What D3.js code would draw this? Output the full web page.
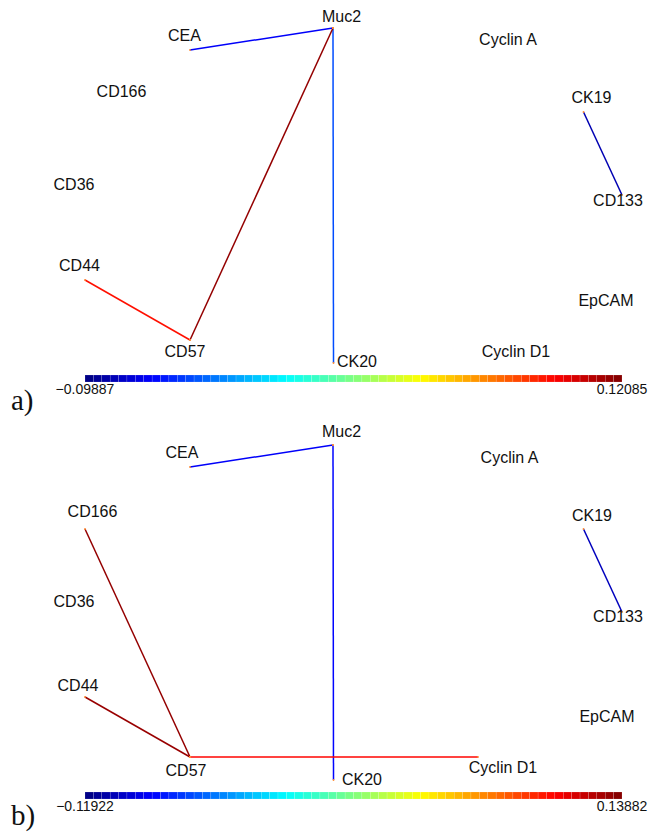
<!DOCTYPE html>
<html><head><meta charset="utf-8">
<script src="https://cdn.jsdelivr.net/npm/d3@7"></script>
<style>body{margin:0;background:#fff}svg{display:block}</style>
</head><body>
<script>
// ---- data ----
const nodeNames = ["CEA","Muc2","CK20","CD57","CD44","CD166","CK19","CD133","Cyclin D1"];
const nodeX = [190,333,333.5,190,85,85,583.5,622,478];
const nodeY = [50,28,363,340,280,112,112,195,340];

const labelNames = ["Muc2","CEA","Cyclin A","CD166","CK19","CD36","CD133","CD44","EpCAM","CD57","CK20","Cyclin D1"];
const labelAX = [341.5,184.5,508,121.5,591.5,74,618,79.5,606,185,357,516];
const labelAY = [22,40.5,45,97,103,190,206,271,306,357,367,357];
const labelBX = [341.5,182,509.5,92.5,592,74,618,78,607,186,362,503];
const labelBY = [20,41,46,100,104,190,205,274,305,359,368,356];

const edgeAFrom  = ["CEA","Muc2","Muc2","CD57","CK19"];
const edgeATo    = ["Muc2","CK20","CD57","CD44","CD133"];
const edgeAValue = [-0.0725,-0.0549,0.1165,0.0901,-0.0879];

const edgeBFrom  = ["CEA","Muc2","CD166","CD44","CD57","CK19"];
const edgeBTo    = ["Muc2","CK20","CD57","CD57","Cyclin D1","CD133"];
const edgeBValue = [-0.0883,-0.0857,0.1337,0.1324,0.1053,-0.1037];

const rangeA = [-0.09887, 0.12085];
const rangeB = [-0.11922, 0.13882];
const tickA = ["\u22120.09887","0.12085"];
const tickB = ["\u22120.11922","0.13882"];
const panelLetters = ["a)","b)"];

// ---- drawing ----
const W = 648, H = 834;
const svg = d3.select("body").append("svg").attr("width",W).attr("height",H);

function jet(t){
  const c = v => Math.max(0, Math.min(1, v));
  return d3.rgb(255*c(1.5-Math.abs(4*t-3)), 255*c(1.5-Math.abs(4*t-2)), 255*c(1.5-Math.abs(4*t-1))).formatHex();
}

function panel(top, lx, ly, eFrom, eTo, eVal, range, ticks, letter, letterY){
  const g = svg.append("g");
  const x = d3.scaleLinear().domain([0,648]).range([0,648]);
  const y = d3.scaleLinear().domain([0,417]).range([top, top+417]);
  const cnorm = d3.scaleLinear().domain(range).range([0,1]).clamp(true);
  const idx = n => nodeNames.indexOf(n);

  const edges = eFrom.map((f,i)=>({f:idx(f), t:idx(eTo[i]), v:eVal[i]}));
  g.selectAll("line.edge").data(edges).join("line").attr("class","edge")
    .attr("x1",d=>x(nodeX[d.f])).attr("y1",d=>y(nodeY[d.f]))
    .attr("x2",d=>x(nodeX[d.t])).attr("y2",d=>y(nodeY[d.t]))
    .attr("stroke",d=>jet(cnorm(d.v))).attr("stroke-width",1.5);

  const ends = [];
  edges.forEach(d=>{ends.push(d.f); ends.push(d.t);});
  g.selectAll("circle.end").data(ends).join("circle").attr("class","end")
    .attr("cx",d=>x(nodeX[d])).attr("cy",d=>y(nodeY[d])).attr("r",0.9)
    .attr("fill","#ff8a30");

  g.selectAll("text.lab").data(labelNames).join("text").attr("class","lab")
    .attr("x",(d,i)=>x(lx[i])).attr("y",(d,i)=>y(ly[i]))
    .attr("text-anchor","middle")
    .style("font-family","'Liberation Sans', Arial, sans-serif").style("font-size","16px")
    .attr("fill","#111").text(d=>d);

  // colorbar
  const cb = d3.scaleLinear().domain(range).range([85,622]);
  const N = 64;
  const steps = d3.range(N).map(i => range[0] + (range[1]-range[0])*i/N);
  const sw = (range[1]-range[0])/N;
  g.selectAll("rect.cb").data(steps).join("rect").attr("class","cb")
    .attr("x",d=>cb(d)).attr("y",y(375)).attr("width",d=>cb(d+sw)-cb(d)).attr("height",7)
    .attr("fill",(d,i)=>jet((i+0.5)/N))
    .attr("stroke","rgba(255,255,255,0.35)").attr("stroke-width",0.4);

  g.selectAll("text.tick").data(range).join("text").attr("class","tick")
    .attr("x",d=>cb(d)).attr("y",y(394)).attr("text-anchor","middle")
    .style("font-family","'Liberation Sans', Arial, sans-serif").style("font-size","14px")
    .attr("fill","#111").text((d,i)=>ticks[i]);

  svg.append("text").attr("x",11).attr("y",letterY)
    .style("font-family","'Liberation Serif', 'Times New Roman', serif").style("font-size","29px")
    .attr("fill","#111").text(letter);
}

panel(0, labelAX, labelAY, edgeAFrom, edgeATo, edgeAValue, rangeA, tickA, panelLetters[0], 410);
panel(417, labelBX, labelBY, edgeBFrom, edgeBTo, edgeBValue, rangeB, tickB, panelLetters[1], 825);
</script>
</body></html>
